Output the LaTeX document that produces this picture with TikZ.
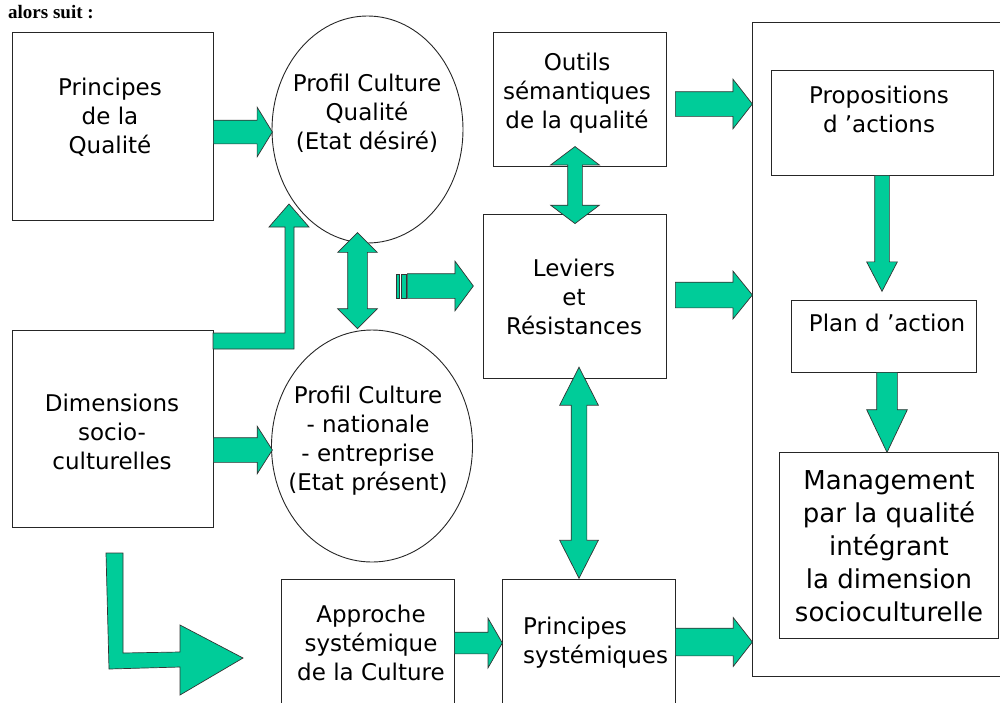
\documentclass[tikz,border=0pt]{standalone}
\usepackage{fontspec}
\setmainfont{DejaVu Sans}
\newfontfamily\headfont{Liberation Serif}
\usetikzlibrary{shapes.geometric,shapes.arrows}
\definecolor{sea}{RGB}{0,204,153}
\tikzset{
  box/.style={draw=black!85,line width=.9pt,fill=white,inner sep=0pt},
  blob/.style={ellipse,draw=black!85,line width=.9pt,inner sep=0pt},
  txt/.style={align=center,inner sep=0pt,font=\fontsize{23}{29}\selectfont},
  fat/.style n args={4}{single arrow,draw=black!80,fill=sea,line width=.7pt,
    inner xsep=0pt,inner ysep=#2,single arrow head extend=#3,
    single arrow tip angle=#4,minimum height=#1,anchor=tail},
  fatboth/.style n args={4}{double arrow,draw=black!80,fill=sea,line width=.7pt,
    inner xsep=0pt,inner ysep=#2,double arrow head extend=#3,
    double arrow tip angle=#4,minimum height=#1,anchor=tip 2,rotate=90},
  bent/.style={draw=black!80,fill=sea,line width=.7pt,line join=miter}
}
\begin{document}
\begin{tikzpicture}[x=1pt,y=-1pt]
	\useasboundingbox (0,0) rectangle (1000,702);
	\clip (0,0) rectangle (1000,702);
	
	% title line above the boxes
	\node[anchor=base west,inner sep=0pt,font=\headfont\bfseries\fontsize{19}{22}\selectfont] (head) at (8,18) {alors suit :};
	
	% big frame on the right
	\node[box,minimum width=258pt,minimum height=654pt] (frame) at (881,349) {};
	
	% draw boxes
	\node[box,minimum width=201pt,minimum height=188pt] (pq) at (112.5,126) {};
	\node[box,minimum width=201pt,minimum height=197pt] (dim) at (112.5,428.5) {};
	\node[box,minimum width=173pt,minimum height=134pt] (out) at (579.5,99) {};
	\node[box,minimum width=183pt,minimum height=164pt] (lev) at (574.5,296) {};
	\node[box,minimum width=173pt,minimum height=131pt] (app) at (367.5,644.5) {};
	\node[box,minimum width=173pt,minimum height=131pt] (ps) at (588.5,644.5) {};
	\node[box,minimum width=222pt,minimum height=105pt] (prop) at (882,122.5) {};
	\node[box,minimum width=185pt,minimum height=72pt] (plan) at (883.5,336) {};
	\node[box,minimum width=219pt,minimum height=186pt] (mgmt) at (888.5,545) {};
	
	% draw ellipses
	\node[blob,minimum width=191pt,minimum height=227pt] (pcq) at (367.5,129.5) {};
	\node[blob,minimum width=201pt,minimum height=232pt] (pcn) at (372,446) {};
	
	% texts
	\node[txt] (pq-t) at (110,117) {Principes\\de la\\Qualité};
	\node[txt] (pcq-t) at (367,113) {Profil Culture\\Qualité\\(Etat désiré)};
	\node[txt] (out-t) at (577,93) {Outils\\sémantiques\\de la qualité};
	\node[txt] (lev-t) at (574,297) {Leviers\\et\\Résistances};
	\node[txt] (dim-t) at (112,432) {Dimensions\\socio-\\culturelles};
	\node[txt] (pcn-t) at (368,441) {Profil Culture\\- nationale\\- entreprise\\(Etat présent)};
	\node[txt] (prop-t) at (879,109) {Propositions\\d 'actions};
	\node[txt] (plan-t) at (887,323) {Plan d 'action};
	\node[txt,font=\fontsize{26}{33}\selectfont] (mgmt-t) at (889,546) {Management\\par la qualité\\intégrant\\la dimension\\socioculturelle};
	\node[txt] (app-t) at (371,643) {Approche\\systémique\\de la Culture};
	\node[txt,align=left,anchor=west] (ps-t) at (523,643) {Principes\\systémiques};
	
	% block arrows
	\node[fat={59pt}{11.5pt}{13pt}{117}] (a-pq) at (213,132) {};
	\node[fat={59pt}{12pt}{11.5pt}{115}] (a-dim) at (213,450) {};
	\node[fat={66pt}{12pt}{12.5pt}{107}] (a-lev) at (407,286) {};
	\draw[bent] (396,274) rectangle (399,298);
	\draw[bent] (401,274) rectangle (406,298);
	\node[fat={77pt}{12pt}{12.5pt}{104}] (a-out) at (675,104) {};
	\node[fat={77pt}{12.5pt}{11pt}{102}] (a-levr) at (675,295) {};
	\node[fat={77pt}{13.5pt}{10.5pt}{104}] (a-ps) at (675,642) {};
	\node[fat={48pt}{10.5pt}{14pt}{120}] (a-app) at (454,643) {};
	\node[fat={116pt}{7pt}{8pt}{55},rotate=-90] (a-prop) at (882,175) {};
	\node[fat={80pt}{10pt}{10pt}{51},rotate=-90] (a-plan) at (887,372) {};
	
	% double arrows
	\node[fatboth={96pt}{9.5pt}{10pt}{90}] (d-pc) at (357.5,329) {};
	\node[fatboth={77pt}{7pt}{17pt}{106}] (d-out) at (575,224) {};
	\node[fatboth={211pt}{7.5pt}{11.5pt}{54}] (d-lev) at (579,579) {};
	
	% bent arrows
	\draw[bent] (213,333) -- (285,333) -- (285,227) -- (269,227) -- (289,204)
		-- (309,227) -- (294,227) -- (294,349) -- (213,349) -- cycle;
	\draw[bent] (106,553) -- (123,553) -- (123,653) -- (180,652) -- (180,625)
		-- (243,658) -- (180,695) -- (180,667) -- (109,669) -- cycle;
\end{tikzpicture}
\end{document}
